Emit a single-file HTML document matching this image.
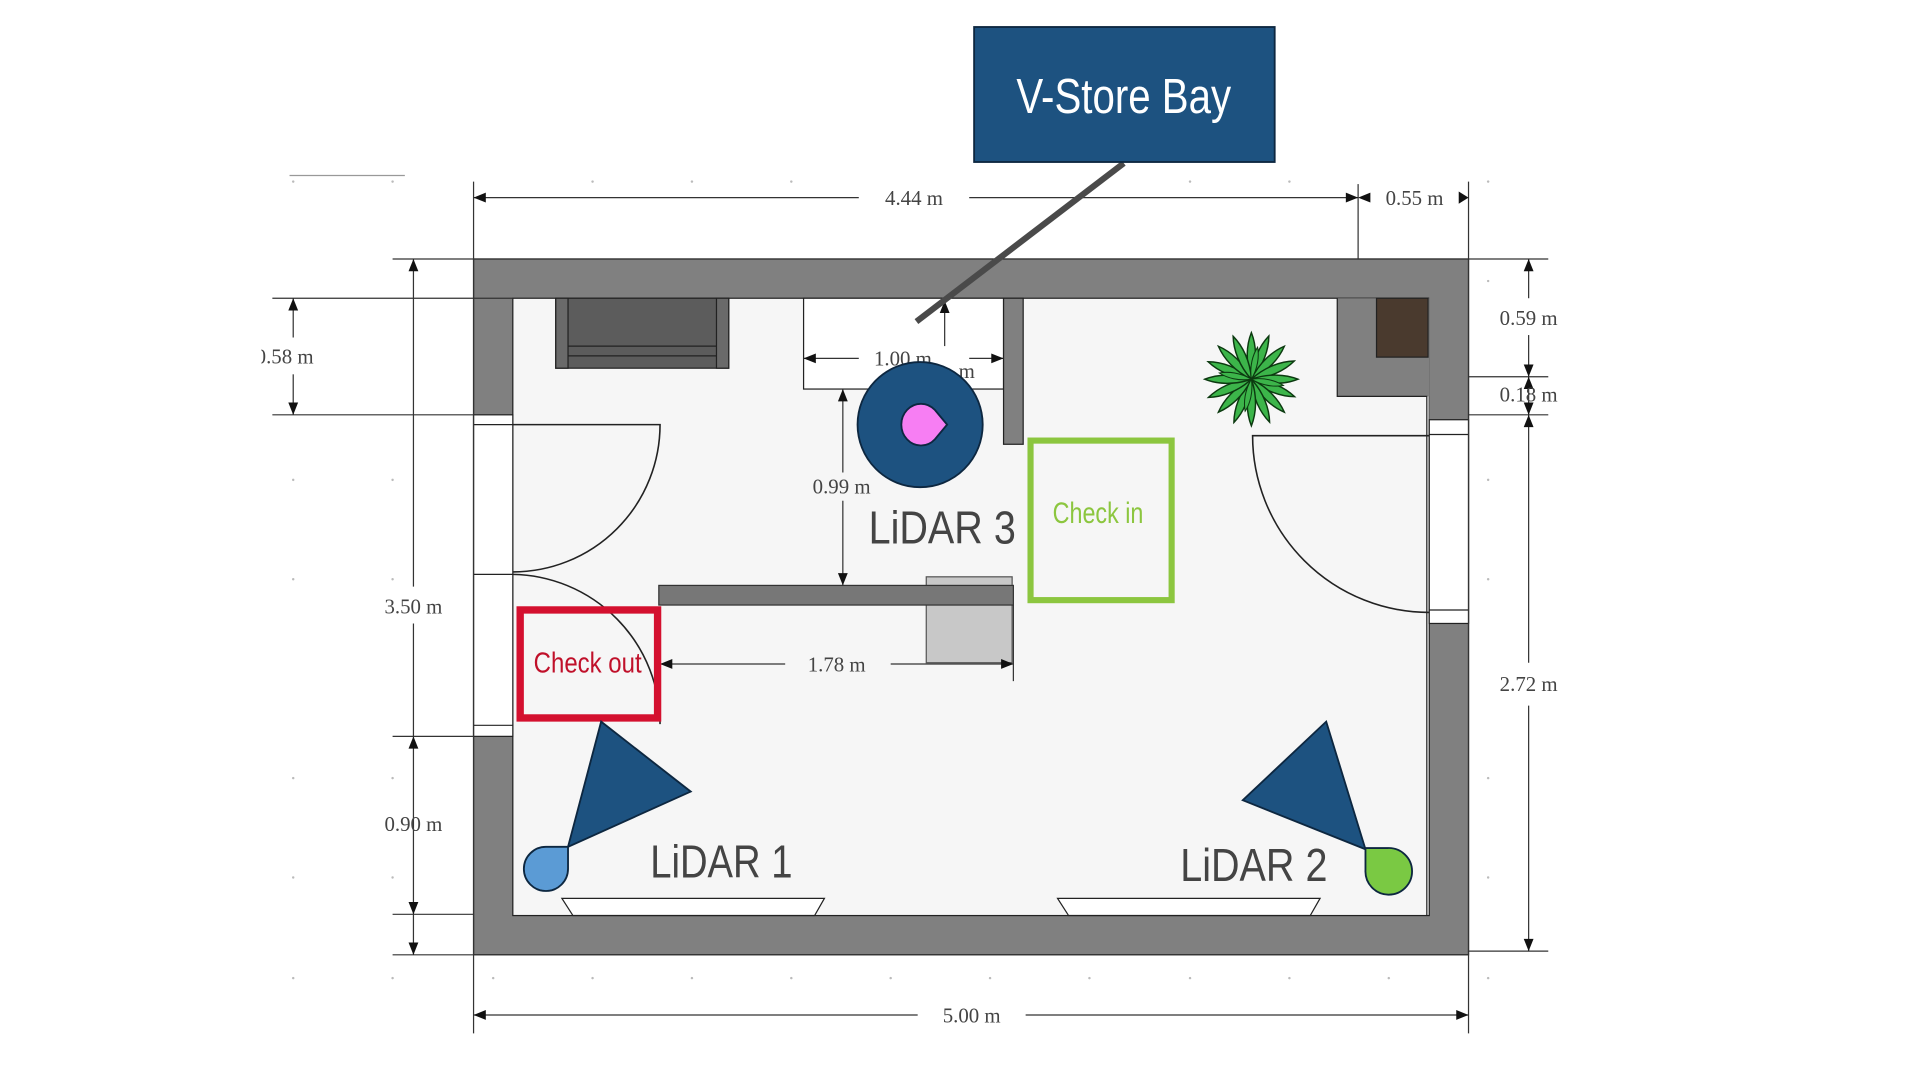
<!DOCTYPE html>
<html><head><meta charset="utf-8"><style>
html,body{margin:0;padding:0;background:#fff;}
svg{display:block;}
</style></head><body>
<svg width="1920" height="1080" viewBox="0 0 1565 880" preserveAspectRatio="none" xmlns="http://www.w3.org/2000/svg">
<rect width="1565" height="880" fill="#fff"/>
<g fill="#bbb">
<circle cx="239" cy="148" r="1"/><circle cx="320" cy="148" r="1"/><circle cx="483" cy="148" r="1"/><circle cx="564" cy="148" r="1"/><circle cx="645" cy="148" r="1"/><circle cx="970" cy="148" r="1"/><circle cx="1051" cy="148" r="1"/><circle cx="1213" cy="148" r="1"/>
<circle cx="239" cy="391" r="1"/><circle cx="320" cy="391" r="1"/><circle cx="239" cy="472" r="1"/><circle cx="320" cy="472" r="1"/><circle cx="239" cy="634" r="1"/><circle cx="320" cy="634" r="1"/><circle cx="239" cy="715" r="1"/><circle cx="320" cy="715" r="1"/><circle cx="239" cy="797" r="1"/><circle cx="320" cy="797" r="1"/>
<circle cx="402" cy="797" r="1"/><circle cx="483" cy="797" r="1"/><circle cx="564" cy="797" r="1"/><circle cx="645" cy="797" r="1"/><circle cx="726" cy="797" r="1"/><circle cx="807" cy="797" r="1"/><circle cx="888" cy="797" r="1"/><circle cx="970" cy="797" r="1"/><circle cx="1051" cy="797" r="1"/><circle cx="1132" cy="797" r="1"/><circle cx="1213" cy="797" r="1"/>
<circle cx="1213" cy="229" r="1"/><circle cx="1213" cy="391" r="1"/><circle cx="1213" cy="472" r="1"/><circle cx="1213" cy="634" r="1"/><circle cx="1213" cy="715" r="1"/>
</g>
<line x1="236" y1="143" x2="330" y2="143" stroke="#999" stroke-width="1"/>

<rect x="386" y="211" width="811" height="567" fill="#808080" stroke="#222" stroke-width="1"/>
<rect x="418" y="243" width="747" height="503" fill="#f6f6f6" stroke="#222" stroke-width="1"/>
<path d="M1090 243 H1165 V323 H1090 Z" fill="#808080" stroke="none"/>
<path d="M1090 243 V323 H1163 V746" fill="none" stroke="#222" stroke-width="1"/>
<rect x="1165" y="242" width="2" height="100" fill="#808080"/>
<rect x="1122" y="243" width="42" height="48" fill="#4a3a2e" stroke="#222" stroke-width="1"/>
<rect x="386" y="338" width="32" height="262" fill="#fff" stroke="#222" stroke-width="1"/>
<line x1="386" y1="346" x2="418" y2="346" stroke="#222"/>
<line x1="386" y1="468" x2="418" y2="468" stroke="#222"/>
<line x1="386" y1="591" x2="418" y2="591" stroke="#222"/>
<rect x="1165" y="342" width="32" height="166" fill="#fff" stroke="#222" stroke-width="1"/>
<line x1="1165" y1="354" x2="1197" y2="354" stroke="#222"/>
<line x1="1165" y1="497" x2="1197" y2="497" stroke="#222"/>
<g fill="none" stroke="#222" stroke-width="1.3">
<path d="M418 346 H538 A120 120 0 0 1 418 466"/>
<path d="M418 468 A122 122 0 0 1 538 590"/>
<path d="M1165 355 H1021 A144 144 0 0 0 1165 499"/>
</g>

<rect x="453" y="243" width="141" height="57" fill="#5c5c5c" stroke="#222"/>
<rect x="453" y="243" width="10" height="57" fill="#6a6a6a" stroke="#222"/>
<rect x="584" y="243" width="10" height="57" fill="#6a6a6a" stroke="#222"/>
<line x1="463" y1="282" x2="584" y2="282" stroke="#222"/>
<line x1="463" y1="290" x2="584" y2="290" stroke="#222"/>

<rect x="655" y="243" width="163" height="74" fill="#fff" stroke="#222"/>
<rect x="818" y="243" width="16" height="119" fill="#808080" stroke="#222"/>

<rect x="755" y="470" width="70" height="70" fill="#c8c8c8" stroke="#555"/>
<rect x="537" y="477" width="289" height="16" fill="#777" stroke="#333"/>

<path d="M458 732 H672 L664 746 H467 Z" fill="#fff" stroke="#222"/>
<path d="M862 732 H1076 L1068 746 H871 Z" fill="#fff" stroke="#222"/>

<g transform="translate(1020,309)" fill="#3cb54a" stroke="#0c3a10" stroke-width="1.2">
<path id="lf" d="M0 0 C5 -14 4 -28 0 -38 C-4 -28 -5 -14 0 0Z"/>
<use href="#lf" transform="rotate(22)"/><use href="#lf" transform="rotate(45)"/><use href="#lf" transform="rotate(67)"/>
<use href="#lf" transform="rotate(90)"/><use href="#lf" transform="rotate(112)"/><use href="#lf" transform="rotate(135)"/>
<use href="#lf" transform="rotate(157)"/><use href="#lf" transform="rotate(180)"/><use href="#lf" transform="rotate(202)"/>
<use href="#lf" transform="rotate(225)"/><use href="#lf" transform="rotate(247)"/><use href="#lf" transform="rotate(270)"/>
<use href="#lf" transform="rotate(292)"/><use href="#lf" transform="rotate(315)"/><use href="#lf" transform="rotate(337)"/>
<use href="#lf" transform="rotate(11) scale(0.7)"/><use href="#lf" transform="rotate(101) scale(0.7)"/><use href="#lf" transform="rotate(191) scale(0.7)"/><use href="#lf" transform="rotate(281) scale(0.7)"/>
</g>

<g stroke="#333" stroke-width="1" fill="none">
<line x1="386" y1="148" x2="386" y2="842"/>
<line x1="1197" y1="148" x2="1197" y2="842"/>
<line x1="1107" y1="150" x2="1107" y2="211"/>
<line x1="386" y1="161" x2="700" y2="161"/><line x1="790" y1="161" x2="1107" y2="161"/>
<line x1="386" y1="827" x2="748" y2="827"/><line x1="836" y1="827" x2="1197" y2="827"/>
<line x1="320" y1="211" x2="386" y2="211"/><line x1="320" y1="600" x2="386" y2="600"/>
<line x1="320" y1="745" x2="386" y2="745"/><line x1="320" y1="778" x2="386" y2="778"/>
<line x1="337" y1="211" x2="337" y2="478"/><line x1="337" y1="508" x2="337" y2="778"/>
<line x1="222" y1="243" x2="418" y2="243"/><line x1="222" y1="338" x2="386" y2="338"/>
<line x1="239" y1="243" x2="239" y2="275"/><line x1="239" y1="305" x2="239" y2="338"/>
<line x1="1197" y1="211" x2="1262" y2="211"/><line x1="1197" y1="307" x2="1262" y2="307"/>
<line x1="1197" y1="338" x2="1262" y2="338"/><line x1="1197" y1="775" x2="1262" y2="775"/>
<line x1="1246" y1="211" x2="1246" y2="243"/><line x1="1246" y1="273" x2="1246" y2="338"/>
<line x1="1246" y1="338" x2="1246" y2="540"/><line x1="1246" y1="575" x2="1246" y2="775"/>
<line x1="655" y1="292" x2="700" y2="292"/><line x1="790" y1="292" x2="818" y2="292"/>
<line x1="770" y1="245" x2="770" y2="282"/>
<line x1="687" y1="317" x2="687" y2="385"/><line x1="687" y1="408" x2="687" y2="477"/>
<line x1="538" y1="541" x2="640" y2="541"/><line x1="726" y1="541" x2="826" y2="541"/>
<line x1="826" y1="493" x2="826" y2="555"/>
</g>
<g fill="#111">
<path d="M386 161 l10 -4 v8z"/><path d="M1107 161 l-10 -4 v8z"/><path d="M1107 161 l10 -4 v8z"/><path d="M1197 161 l-8 -5 v10z"/>
<path d="M386 827 l10 -4 v8z"/><path d="M1197 827 l-10 -4 v8z"/>
<path d="M337 211 l-4 10 h8z"/><path d="M337 600 l-4 10 h8z"/><path d="M337 745 l-4 -10 h8z"/><path d="M337 778 l-4 -10 h8z"/>
<path d="M239 243 l-4 10 h8z"/><path d="M239 338 l-4 -10 h8z"/>
<path d="M1246 211 l-4 10 h8z"/><path d="M1246 307 l-4 -10 h8z"/><path d="M1246 307 l-4 10 h8z"/><path d="M1246 338 l-4 -10 h8z"/><path d="M1246 338 l-4 10 h8z"/><path d="M1246 775 l-4 -10 h8z"/>
<path d="M655 292 l10 -4 v8z"/><path d="M818 292 l-10 -4 v8z"/><path d="M770 245 l-4 10 h8z"/>
<path d="M687 317 l-4 10 h8z"/><path d="M687 477 l-4 -10 h8z"/>
<path d="M538 541 l10 -4 v8z"/><path d="M826 541 l-10 -4 v8z"/>
</g>
<g font-family="Liberation Serif, serif" font-size="17" fill="#444" text-anchor="middle">
<text x="745" y="167">4.44 m</text>
<text x="1153" y="167">0.55 m</text>
<text x="792" y="833">5.00 m</text>
<text x="337" y="500">3.50 m</text>
<text x="337" y="677">0.90 m</text>
<text x="232" y="296">0.58 m</text>
<text x="1246" y="265">0.59 m</text>
<text x="1246" y="327">0.18 m</text>
<text x="1246" y="563">2.72 m</text>
<text x="736" y="298">1.00 m</text>
<text x="788" y="308">m</text>
<text x="686" y="402">0.99 m</text>
<text x="682" y="547">1.78 m</text>
</g>
<rect x="0" y="270" width="213" height="40" fill="#fff"/>

<circle cx="750" cy="346" r="51" fill="#1d5280" stroke="#0d2740" stroke-width="1.5"/>
<path d="M772 346 L762 334 A16 17 0 1 0 762 358 Z" fill="#f77ef3" stroke="#0d2740" stroke-width="1.5"/>
<text x="708" y="443" font-family="Liberation Sans, sans-serif" font-size="38" fill="#444" textLength="120" lengthAdjust="spacingAndGlyphs">LiDAR 3</text>

<rect x="840" y="359" width="115" height="130" fill="none" stroke="#8cc63f" stroke-width="5"/>
<text x="895" y="426" font-family="Liberation Sans, sans-serif" font-size="24" fill="#8cc63f" text-anchor="middle" textLength="74" lengthAdjust="spacingAndGlyphs">Check in</text>
<rect x="424" y="497" width="112" height="88" fill="none" stroke="#d4102f" stroke-width="6"/>
<text x="479" y="548" font-family="Liberation Sans, sans-serif" font-size="23" fill="#c0102a" text-anchor="middle" textLength="88" lengthAdjust="spacingAndGlyphs">Check out</text>

<path d="M490 588 L563 645 L463 690 Z" fill="#1d5280" stroke="#0d2740" stroke-width="1.5"/>
<path d="M463 690 V708 A18 18 0 1 1 445 690 Z" fill="#5b9bd5" stroke="#0d2740" stroke-width="1.5"/>
<text x="530" y="715" font-family="Liberation Sans, sans-serif" font-size="38" fill="#444" textLength="116" lengthAdjust="spacingAndGlyphs">LiDAR 1</text>

<path d="M1081 588 L1013 652 L1113 692 Z" fill="#1d5280" stroke="#0d2740" stroke-width="1.5"/>
<path d="M1113 691 H1131 A19 19 0 1 1 1113 709 Z" fill="#7ac943" stroke="#0d2740" stroke-width="1.5"/>
<text x="962" y="718" font-family="Liberation Sans, sans-serif" font-size="38" fill="#444" textLength="120" lengthAdjust="spacingAndGlyphs">LiDAR 2</text>

<line x1="916" y1="133" x2="747" y2="262" stroke="#4a4a4a" stroke-width="5"/>
<rect x="794" y="22" width="245" height="110" fill="#1d5280" stroke="#0d2740" stroke-width="1.5"/>
<text x="916" y="92" font-family="Liberation Sans, sans-serif" font-size="40" fill="#fff" text-anchor="middle" textLength="175" lengthAdjust="spacingAndGlyphs">V-Store Bay</text>
</svg>
</body></html>
